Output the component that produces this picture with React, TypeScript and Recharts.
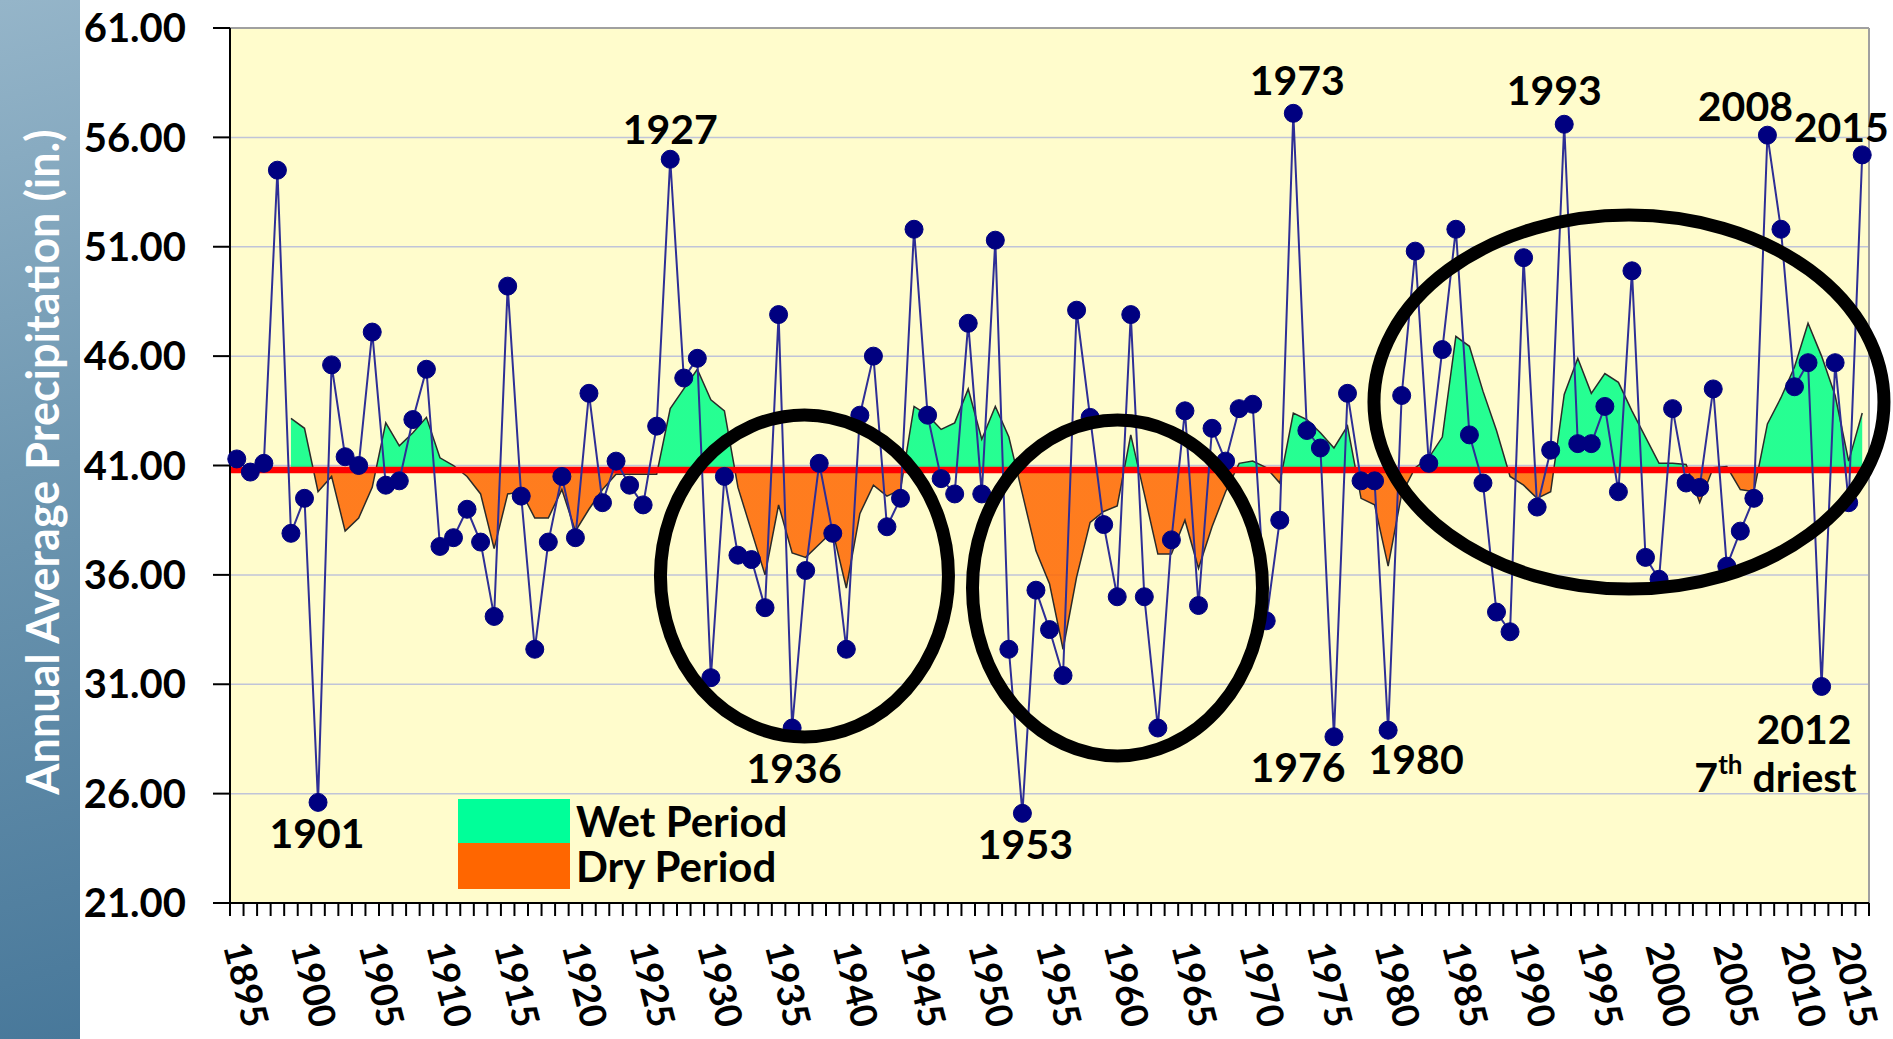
import React from 'react'
import {
  ComposedChart,
  Line,
  Area,
  XAxis,
  YAxis,
  CartesianGrid,
  ReferenceLine,
  ReferenceDot,
} from 'recharts'

// annual average precipitation, 1895-2015 (in.)
const firstYear = 1895
const precip = [
  41.3, 40.7, 41.1, 54.5, 37.9, 39.5, 25.6, 45.6, 41.4, 41.0,
  47.1, 40.1, 40.3, 43.1, 45.4, 37.3, 37.7, 39.0, 37.5, 34.1,
  49.2, 39.6, 32.6, 37.5, 40.5, 37.7, 44.3, 39.3, 41.2, 40.1,
  39.2, 42.8, 55.0, 45.0, 45.9, 31.3, 40.5, 36.9, 36.7, 34.5,
  47.9, 29.0, 36.2, 41.1, 37.9, 32.6, 43.3, 46.0, 38.2, 39.5,
  51.8, 43.3, 40.4, 39.7, 47.5, 39.7, 51.3, 32.6, 25.1, 35.3,
  33.5, 31.4, 48.1, 43.2, 38.3, 35.0, 47.9, 35.0, 29.0, 37.6,
  43.5, 34.6, 42.7, 41.2, 43.6, 43.8, 33.9, 38.5, 57.1, 42.6,
  41.8, 28.6, 44.3, 40.3, 40.3, 28.9, 44.2, 50.8, 41.1, 46.3,
  51.8, 42.4, 40.2, 34.3, 33.4, 50.5, 39.1, 41.7, 56.6, 42.0,
  42.0, 43.7, 39.8, 49.9, 36.8, 35.8, 43.6, 40.2, 40.0, 44.5,
  36.4, 38.0, 39.5, 56.1, 51.8, 44.6, 45.7, 30.9, 45.7, 39.3,
  55.2,
]

// smoothed wet / dry curve, starts in 1899
const smoothStart = 1899
const smoothed = [
  43.15, 42.7, 39.8, 40.5, 38.0, 38.6, 40.0, 42.95, 41.9, 42.5,
  43.2, 41.35, 41.0, 40.5, 39.7, 37.2, 39.7, 39.8, 38.6, 38.6,
  39.9, 38.0, 39.0, 39.9, 40.6, 40.6, 40.6, 40.6, 43.6, 44.5,
  45.4, 44.0, 43.5, 40.0, 38.0, 36.0, 39.2, 37.0, 36.8, 37.4,
  38.0, 35.4, 38.8, 40.1, 39.6, 39.9, 43.7, 43.3, 42.65, 42.95,
  44.5, 42.2, 43.7, 42.3, 39.7, 37.1, 35.6, 32.6, 35.9, 38.4,
  38.9, 39.15, 42.4, 39.7, 36.95, 36.95, 38.5, 36.3, 38.2, 39.8,
  41.1, 41.2, 40.9, 40.2, 43.4, 43.1, 42.5, 41.8, 42.8, 39.5,
  39.2, 36.4, 39.7, 40.9, 41.35, 42.3, 46.9, 46.45, 44.4, 42.6,
  40.5, 40.1, 39.5, 39.8, 44.25, 45.9, 44.3, 45.2, 44.8, 43.5,
  42.3, 41.1, 41.1, 41.05, 39.3, 40.9, 40.95, 39.9, 39.8, 42.9,
  44.1, 45.5, 47.5, 46.0, 44.2, 41.2, 43.4,
]

const longTermAvg = 40.8
const yTicks = [21, 26, 31, 36, 41, 46, 51, 56, 61]

const annotations = [
  { year: 1901, text: '1901', dx: -1, dy: 30, anchor: 'middle' },
  { year: 1927, text: '1927', dx: 0, dy: -31, anchor: 'middle' },
  { year: 1936, text: '1936', dx: 2, dy: 39, anchor: 'middle' },
  { year: 1953, text: '1953', dx: 3, dy: 30, anchor: 'middle' },
  { year: 1973, text: '1973', dx: 4, dy: -34, anchor: 'middle' },
  { year: 1976, text: '1976', dx: -36, dy: 30, anchor: 'middle' },
  { year: 1980, text: '1980', dx: 28, dy: 28, anchor: 'middle' },
  { year: 1993, text: '1993', dx: -10, dy: -35, anchor: 'middle' },
  { year: 2008, text: '2008', dx: -22, dy: -30, anchor: 'middle' },
  { year: 2015, text: '2015', dx: -21, dy: -28, anchor: 'middle' },
  { year: 2012, text: '2012', dx: 30, dy: 42, anchor: 'end' },
]

// circled periods: centre (year, inches) and radii in px
const circles = [
  { year: 1936.91, value: 35.95, rx: 144, ry: 161 },
  { year: 1960.02, value: 35.4, rx: 145, ry: 168 },
  { year: 1997.78, value: 43.9, rx: 255, ry: 187 },
]

const legendItems = [
  { label: 'Wet Period', color: '#00FF99', height: 44 },
  { label: 'Dry Period', color: '#FF6600', height: 46 },
]

const years = precip.map((_, i) => firstYear + i)
// tick marks sit between the yearly categories
const tickMarks = [...years.map((y) => y - 0.5), years[years.length - 1] + 0.5]

const chartData = years.map((year, i) => {
  const j = year - smoothStart
  return {
    year,
    precip: precip[i],
    smooth: j >= 0 ? smoothed[j] : null,
  }
})

const sMax = Math.max(...smoothed)
const sMin = Math.min(...smoothed)
const splitOffset = (sMax - longTermAvg) / (sMax - sMin)

const FONT = 'Lato, "Open Sans", sans-serif'

function YearTick(props: any) {
  const { x, y, payload } = props
  const year = payload.value + 0.5
  if (year % 5 !== 0 || year > 2015) return <g />
  // keep the last label inside the picture
  const tx = Math.min(x - 7, 1832)
  const ty = y + 30
  return (
    <text
      x={tx}
      y={ty}
      transform={`rotate(76 ${tx} ${ty})`}
      fontFamily={FONT}
      fontWeight={700}
      fontSize={37}
      fill="#000"
    >
      {year}
    </text>
  )
}

const valueOf = (year: number) => precip[year - firstYear]

export default function App() {
  return (
    <div
      style={{
        position: 'absolute',
        left: 0,
        top: 0,
        width: 1893,
        height: 1039,
        background: '#fff',
        overflow: 'hidden',
      }}
    >
      <div
        style={{
          position: 'absolute',
          left: 0,
          top: 0,
          width: 80,
          height: 1039,
          background: 'linear-gradient(165deg, #95B5C9 0%, #6E97B1 45%, #48789A 100%)',
        }}
      />
      <svg style={{ position: 'absolute', left: 0, top: 0 }} width={80} height={1039}>
        <text
          x={42}
          y={462}
          transform="rotate(-90 42 462)"
          textAnchor="middle"
          dominantBaseline="central"
          fill="#fff"
          fontFamily={FONT}
          fontWeight={700}
          fontSize={45}
        >
          Annual Average Precipitation (in.)
        </text>
      </svg>

      <div style={{ position: 'absolute', left: 0, top: 0 }}>
        <ComposedChart
          width={1893}
          height={1039}
          data={chartData}
          margin={{ top: 28, right: 24, bottom: 0, left: 0 }}
        >
          <defs>
            <linearGradient id="wetDry" x1="0" y1="0" x2="0" y2="1">
              <stop offset={0} stopColor="#00FF88" />
              <stop offset={splitOffset} stopColor="#00FF88" />
              <stop offset={splitOffset} stopColor="#FF6600" />
              <stop offset={1} stopColor="#FF6600" />
            </linearGradient>
          </defs>
          <CartesianGrid
            vertical={false}
            stroke="#C0C4D8"
            strokeWidth={1.5}
            fill="#FFFCCC"
          />
          <XAxis
            dataKey="year"
            type="number"
            domain={[1894.5, 2015.5]}
            ticks={tickMarks}
            interval={0}
            height={136}
            tickSize={13}
            tickMargin={0}
            axisLine={{ stroke: '#000', strokeWidth: 2 }}
            tickLine={{ stroke: '#000', strokeWidth: 2 }}
            tick={<YearTick />}
          />
          <YAxis
            domain={[21, 61]}
            ticks={yTicks}
            width={230}
            tickSize={17}
            tickMargin={27}
            allowDataOverflow
            axisLine={{ stroke: '#000', strokeWidth: 2 }}
            tickLine={{ stroke: '#000', strokeWidth: 2 }}
            tickFormatter={(v: number) => v.toFixed(2)}
            tick={{ fill: '#000', fontFamily: FONT, fontWeight: 700, fontSize: 40 }}
          />
          <ReferenceLine y={61} stroke="#A0A0A0" strokeWidth={2} />
          <ReferenceLine x={2015.5} stroke="#A0A0A0" strokeWidth={2} />
          <Area
            type="linear"
            dataKey="smooth"
            baseValue={longTermAvg}
            fill="url(#wetDry)"
            fillOpacity={0.85}
            stroke="#2A2A2A"
            strokeWidth={1.5}
            connectNulls={false}
            isAnimationActive={false}
            zIndex={100}
          />
          <ReferenceLine
            y={longTermAvg}
            stroke="#FF0000"
            strokeWidth={6.5}
            zIndex={150}
          />
          <Line
            type="linear"
            dataKey="precip"
            stroke="#2E2E96"
            strokeWidth={2}
            dot={{ r: 9, fill: '#000080', stroke: '#000080', strokeWidth: 1 }}
            activeDot={false}
            isAnimationActive={false}
            zIndex={400}
          />
          {circles.map((c) => (
            <ReferenceDot
              key={c.year}
              x={c.year}
              y={c.value}
              ifOverflow="visible"
              zIndex={700}
              shape={(p: any) => (
                <ellipse
                  cx={p.cx}
                  cy={p.cy}
                  rx={c.rx}
                  ry={c.ry}
                  fill="none"
                  stroke="#000"
                  strokeWidth={13}
                />
              )}
            />
          ))}
          {annotations.map((a) => (
            <ReferenceDot
              key={a.text}
              x={a.year}
              y={valueOf(a.year)}
              ifOverflow="visible"
              zIndex={800}
              shape={(p: any) => (
                <g>
                  <text
                    x={p.cx + a.dx}
                    y={p.cy + a.dy}
                    textAnchor={a.anchor}
                    dominantBaseline="central"
                    fontFamily={FONT}
                    fontWeight={700}
                    fontSize={41}
                    fill="#000"
                  >
                    {a.text}
                  </text>
                  {a.year === 2012 && (
                    <text
                      x={p.cx + 35}
                      y={p.cy + 90}
                      textAnchor="end"
                      dominantBaseline="central"
                      fontFamily={FONT}
                      fontWeight={700}
                      fontSize={41}
                      fill="#000"
                    >
                      7
                      <tspan fontSize={26} dy={-12}>th</tspan>
                      <tspan dy={12}> driest</tspan>
                    </text>
                  )}
                </g>
              )}
            />
          ))}
        </ComposedChart>
      </div>

      <div
        style={{
          position: 'absolute',
          left: 458,
          top: 799,
          fontFamily: FONT,
          fontWeight: 700,
          fontSize: 42,
          color: '#000',
        }}
      >
        {legendItems.map((item) => (
          <div
            key={item.label}
            style={{ display: 'flex', alignItems: 'center', height: item.height }}
          >
            <div style={{ width: 112, height: item.height, background: item.color }} />
            <span style={{ marginLeft: 6, lineHeight: 1 }}>{item.label}</span>
          </div>
        ))}
      </div>
    </div>
  )
}
